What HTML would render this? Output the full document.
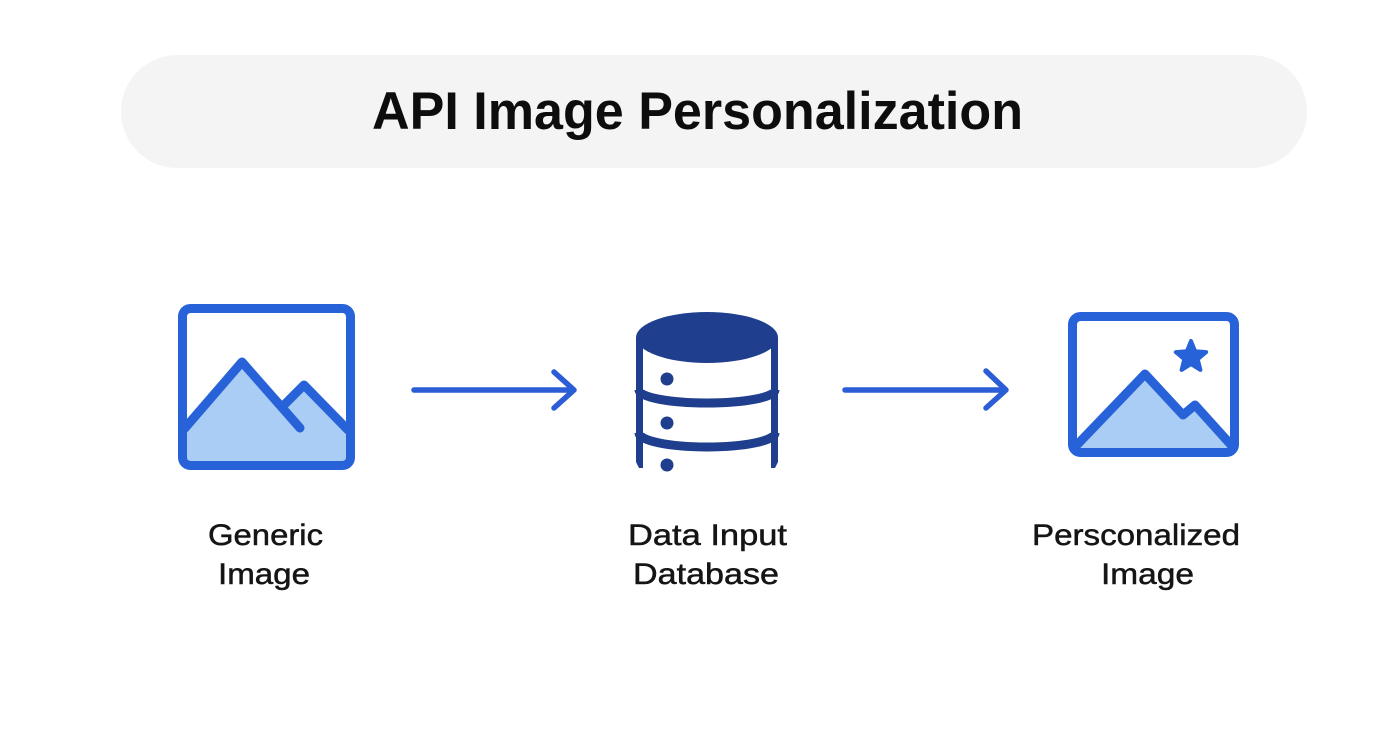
<!DOCTYPE html>
<html>
<head>
<meta charset="utf-8">
<style>
  html, body { margin: 0; padding: 0; background: #ffffff; }
  body { width: 1392px; height: 752px; overflow: hidden; }
  svg { display: block; }
  .lbl { font-family: "Liberation Sans", Arial, sans-serif; font-size: 30px; fill: #151515; stroke: #151515; stroke-width: 0.5px; }
</style>
</head>
<body>
<svg width="1392" height="752" viewBox="0 0 1392 752" xmlns="http://www.w3.org/2000/svg">
  <rect x="0" y="0" width="1392" height="752" fill="#ffffff"/>

  <!-- Title pill -->
  <rect x="121" y="55" width="1186" height="113" rx="56.5" ry="56.5" fill="#f4f4f4"/>
  <text x="372" y="129" font-family="Liberation Sans, Arial, sans-serif" font-weight="bold" font-size="53" fill="#0d0d0d" textLength="651" lengthAdjust="spacingAndGlyphs">API Image Personalization</text>

  <!-- Generic Image icon -->
  <polygon points="187,427 242,362 285,403 304,385 347,427 347,465 187,465" fill="#a9cdf4"/>
  <rect x="182.5" y="308.5" width="168" height="157" rx="8" ry="8" fill="none" stroke="#2862d8" stroke-width="9"/>
  <polyline points="185,428 242,362 300,428" fill="none" stroke="#2862d8" stroke-width="9" stroke-linecap="round" stroke-linejoin="round"/>
  <polyline points="284,405 304,385 348,430" fill="none" stroke="#2862d8" stroke-width="9" stroke-linecap="round" stroke-linejoin="round"/>

  <!-- Arrow 1 -->
  <line x1="414" y1="390" x2="573" y2="390" stroke="#2b5dd6" stroke-width="5.5" stroke-linecap="round"/>
  <polyline points="554,372 574,390 554,408" fill="none" stroke="#2b5dd6" stroke-width="5.5" stroke-linecap="round" stroke-linejoin="round"/>

  <!-- Database icon -->
  <g fill="#1f3f8e" stroke="none">
    <ellipse cx="707" cy="337.5" rx="71" ry="25.5"/>
    <path d="M636,337 L643,337 L643,468 L639,468 L636,462 Z"/>
    <path d="M771,337 L778,337 L778,462 L775,468 L771,468 Z"/>
    <circle cx="667" cy="379" r="6.5"/>
    <circle cx="667" cy="423" r="6.5"/>
    <circle cx="667" cy="465" r="6.5"/>
  </g>
  <path d="M639,390 A68,13 0 0 0 775,390" fill="none" stroke="#1f3f8e" stroke-width="9"/>
  <path d="M639,433 A68,14 0 0 0 775,433" fill="none" stroke="#1f3f8e" stroke-width="9"/>

  <!-- Arrow 2 -->
  <line x1="845" y1="390" x2="1005" y2="390" stroke="#2b5dd6" stroke-width="5.5" stroke-linecap="round"/>
  <polyline points="986,371 1006,390 986,408" fill="none" stroke="#2b5dd6" stroke-width="5.5" stroke-linecap="round" stroke-linejoin="round"/>

  <!-- Personalized Image icon -->
  <polygon points="1075,448 1145,374 1183,415 1195,405 1230,445 1230,448" fill="#a9cdf4"/>
  <rect x="1072.5" y="316.5" width="162" height="136" rx="8" ry="8" fill="none" stroke="#2862d8" stroke-width="9"/>
  <polyline points="1074,448 1145,374 1183,415 1195,405 1232,446" fill="none" stroke="#2862d8" stroke-width="9" stroke-linecap="round" stroke-linejoin="round"/>
  <polygon points="1191,341 1195.1,351.3 1206.2,352.1 1197.7,359.2 1200.4,369.9 1191,364 1181.6,369.9 1184.3,359.2 1175.8,352.1 1186.9,351.3" fill="#2862d8" stroke="#2862d8" stroke-width="4" stroke-linejoin="round"/>

  <!-- Labels -->
  <text class="lbl" x="208" y="545" textLength="115" lengthAdjust="spacingAndGlyphs">Generic</text>
  <text class="lbl" x="218" y="584" textLength="92" lengthAdjust="spacingAndGlyphs">Image</text>

  <text class="lbl" x="628" y="545" textLength="159" lengthAdjust="spacingAndGlyphs">Data Input</text>
  <text class="lbl" x="633" y="584" textLength="146" lengthAdjust="spacingAndGlyphs">Database</text>

  <text class="lbl" x="1032" y="545" textLength="208" lengthAdjust="spacingAndGlyphs">Persconalized</text>
  <text class="lbl" x="1101" y="584" textLength="93" lengthAdjust="spacingAndGlyphs">Image</text>
</svg>
</body>
</html>
